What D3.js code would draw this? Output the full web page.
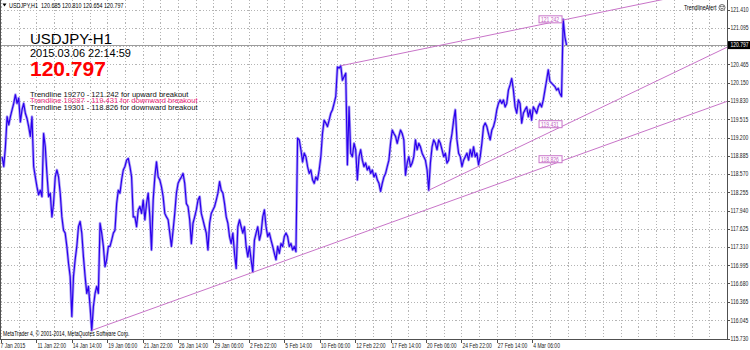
<!DOCTYPE html>
<html>
<head>
<meta charset="utf-8">
<script src="https://cdn.jsdelivr.net/npm/d3@7"></script>
<style>
  body { margin: 0; background: #fff; }
  svg { display: block; font-family: "Liberation Sans", Arial, sans-serif; }
</style>
</head>
<body>
<svg id="chart" width="750" height="350"></svg>
<script>
`use strict`;

const header = `USDJPY,H1  120.685 120.810 120.654 120.797`;

const symbol = `USDJPY-H1`;

const serverTime = `2015.03.06 22:14:59`;

const bid = 120.797;

const priceTicks = [121.410, 121.095, 120.780, 120.465, 120.150, 119.830, 119.515, 119.200, 118.885,
  118.570, 118.255, 117.940, 117.625, 117.310, 116.995, 116.680, 116.365, 116.045, 115.730];

const timeLabels = [`7 Jan 2015`, `11 Jan 22:00`, `14 Jan 14:00`, `19 Jan 06:00`, `21 Jan 22:00`,
  `26 Jan 14:00`, `29 Jan 06:00`, `2 Feb 22:00`, `5 Feb 14:00`, `10 Feb 06:00`, `12 Feb 22:00`,
  `17 Feb 14:00`, `20 Feb 06:00`, `24 Feb 22:00`, `27 Feb 14:00`, `4 Mar 06:00`];

// one close every 3 hourly bars
const closes = [
  118.87, 118.70, 119.04, 119.56, 119.42, 119.56, 119.68, 119.79, 119.94, 119.79,
  119.88, 119.47, 119.68, 119.79, 119.62, 119.53, 119.39, 119.22, 119.56, 118.70,
  118.52, 118.35, 118.21, 118.29, 118.18, 119.27, 119.04, 118.58, 118.18, 118.24,
  117.83, 118.06, 118.52, 118.64, 118.52, 118.24, 117.83, 117.60, 117.55, 117.32,
  117.03, 116.80, 116.11, 116.80, 117.09, 117.32, 117.66, 117.75, 117.55, 117.14,
  116.80, 116.51, 116.63, 116.28, 115.87, 116.28, 116.51, 116.63, 116.51, 117.72,
  117.55, 117.32, 116.97, 117.09, 117.32, 117.32, 117.43, 117.55, 117.60, 118.06,
  118.29, 118.24, 118.47, 118.64, 118.70, 118.81, 118.84, 118.70, 118.52, 117.83,
  117.83, 117.66, 117.95, 118.01, 117.89, 118.12, 117.78, 118.06, 118.24, 117.83,
  117.26, 118.12, 118.52, 118.78, 118.52, 118.47, 118.35, 118.18, 117.89, 117.83,
  117.78, 117.55, 117.32, 117.60, 117.89, 118.24, 118.41, 118.47, 118.52, 118.58,
  118.41, 118.06, 118.01, 117.78, 117.37, 117.72, 117.83, 117.95, 118.12, 118.18,
  117.89, 117.78, 117.66, 117.55, 117.26, 117.72, 117.89, 117.95, 118.01, 118.12,
  118.24, 118.44, 118.29, 118.24, 118.06, 117.83, 117.72, 117.49, 117.37, 117.55,
  117.20, 116.94, 117.66, 117.78, 117.66, 117.55, 117.66, 117.32, 117.14, 117.32,
  117.09, 116.88, 117.43, 117.55, 117.66, 117.43, 117.55, 117.83, 117.95, 117.66,
  117.49, 117.55, 117.43, 117.32, 117.20, 117.09, 117.32, 117.20, 117.37, 117.32,
  117.49, 117.55, 117.49, 117.32, 117.37, 117.26, 117.32, 117.23,
  119.19, 119.16, 118.99, 118.78, 118.93, 118.87, 118.70, 118.58, 118.64, 118.47,
  118.41, 118.52, 118.47, 118.64, 118.87, 119.27, 119.50, 119.45, 119.39, 119.50,
  119.62, 119.68, 119.79, 119.91, 120.42, 120.40, 120.44, 120.19, 120.25, 120.31,
  118.73, 119.73, 118.93, 118.87, 119.10, 118.99, 118.47, 118.87, 118.99, 118.81,
  118.70, 118.76, 118.64, 118.70, 118.58, 118.64, 118.52, 118.58, 118.47, 118.41,
  118.27, 118.41, 118.52, 118.58, 118.70, 118.81, 119.10, 119.33, 119.27, 119.22,
  119.10, 119.22, 119.33, 119.27, 119.16, 118.55, 118.76, 118.87, 118.70, 118.76,
  118.87, 119.16, 118.99, 119.10, 119.04, 118.93, 118.87, 118.81, 118.64, 118.29,
  118.76, 119.04, 119.16, 119.10, 118.99, 119.16, 119.10, 118.99, 118.87, 118.93,
  118.76, 118.81, 119.10, 119.27, 119.50, 119.68, 119.16, 118.93, 118.87, 118.70,
  118.81, 118.87, 118.93, 118.81, 118.99, 118.87, 119.04, 118.87, 118.93, 118.73,
  118.87, 119.10, 119.39, 119.45, 119.39, 119.27, 119.16, 119.33, 119.39, 119.50,
  119.68, 119.79, 119.85, 119.79, 119.85, 119.73, 119.79, 120.02, 120.11, 120.22,
  120.02, 119.73, 119.62, 119.85, 119.79, 119.45, 119.62, 119.68, 119.73, 119.56,
  119.68, 119.50, 119.73, 119.68, 119.62, 119.73, 119.79, 119.73, 119.85, 120.02,
  120.19, 120.37, 120.17, 120.14, 120.11, 120.08, 120.02, 120.05, 119.96, 119.91,
  121.24, 120.94, 120.797
];

const trendIds = [19270, 19287, 19301];

const trendStart = [[614, 120.44], [773, 118.29], [164, 115.87]];

const trendEnd = [[1022, 121.242], [1022, 119.431], [1022, 118.826]];

const trendSide = [`upward`, `downward`, `downward`];

(function () {

  const W = 750;

  const R = 727, B = 339;

  const BARS = 1312;

  const NARROW = .77;

  const barOf = i => 3 * i + 2;

  const lastBar = barOf(closes.length - 1);

  // the terminal font is narrower than Liberation Sans
  let squeeze = sel => {

    sel.each(function () {

      let w = this.getComputedTextLength();

      d3.select(this).attr(`textLength`, w * NARROW).attr(`lengthAdjust`, `spacingAndGlyphs`);
    });
  }

  let svg = d3.select(`#chart`);

  let x = d3.scaleLinear().domain([0, BARS]).range([1, R]);

  let y = d3.scaleLinear().domain([115.73, 121.41]).range([338.5, 9.6]);

  svg.append(`defs`).append(`clipPath`).attr(`id`, `plot`)
    .append(`rect`).attr(`x`, 0).attr(`y`, 0).attr(`width`, R).attr(`height`, B);

  // grid
  let grid = svg.append(`g`)
    .attr(`stroke`, `#b4b4b4`)
    .attr(`stroke-dasharray`, `1.2,2`)
    .attr(`shape-rendering`, `crispEdges`);

  grid.selectAll(`line.h`).data(priceTicks)
    .enter()
    .append(`line`)
    .attr(`class`, `h`)
    .attr(`x1`, 1)
    .attr(`x2`, R)
    .attr(`y1`, d => Math.round(y(d)) + .5)
    .attr(`y2`, d => Math.round(y(d)) + .5);

  grid.selectAll(`line.v`).data(d3.range(0, BARS, 32))
    .enter()
    .append(`line`)
    .attr(`class`, `v`)
    .attr(`x1`, d => Math.round(x(d)) + .5)
    .attr(`x2`, d => Math.round(x(d)) + .5)
    .attr(`y1`, 0)
    .attr(`y2`, B);

  // bid line
  svg.append(`line`)
    .attr(`x1`, 1).attr(`x2`, R)
    .attr(`y1`, Math.round(y(bid)) + .5).attr(`y2`, Math.round(y(bid)) + .5)
    .attr(`stroke`, `#9c9c9c`)
    .attr(`shape-rendering`, `crispEdges`);

  // price
  let line = d3.line()
    .x((d, i) => x(barOf(i)))
    .y(d => y(d));

  let plot = svg.append(`g`).attr(`clip-path`, `url(#plot)`);

  plot.append(`path`)
    .datum(closes)
    .attr(`d`, line)
    .attr(`fill`, `none`)
    .attr(`stroke`, `#b0a4f4`)
    .attr(`stroke-width`, 2.8)
    .attr(`stroke-linejoin`, `round`);

  plot.append(`path`)
    .datum(closes)
    .attr(`d`, line)
    .attr(`fill`, `none`)
    .attr(`stroke`, `#2b00ee`)
    .attr(`stroke-width`, 1.2)
    .attr(`stroke-linejoin`, `round`);

  // trendlines, extended to the right edge
  let rays = trendIds.map((id, k) => {

    let a = trendStart[k], b = trendEnd[k];

    let slope = (b[1] - a[1]) / (b[0] - a[0]);

    return {id: id, a: a, b: b, far: [BARS, a[1] + slope * (BARS - a[0])]};
  });

  plot.selectAll(`line.trend`).data(rays)
    .enter()
    .append(`line`)
    .attr(`class`, `trend`)
    .attr(`x1`, d => x(d.a[0]))
    .attr(`y1`, d => y(d.a[1]))
    .attr(`x2`, d => x(d.far[0]))
    .attr(`y2`, d => y(d.far[1]))
    .attr(`stroke`, `#c874c8`)
    .attr(`stroke-width`, 1);

  let tags = svg.selectAll(`g.tag`).data(rays)
    .enter()
    .append(`g`)
    .attr(`class`, `tag`)
    .attr(`transform`, d => `translate(${x(lastBar) - 28},${y(d.b[1])})`);

  tags.append(`rect`)
    .attr(`x`, .5).attr(`y`, -3.5)
    .attr(`width`, 23).attr(`height`, 7)
    .attr(`fill`, `#fff`)
    .attr(`stroke`, `#c874c8`);

  tags.append(`text`)
    .attr(`x`, 2.5)
    .attr(`y`, 2.4)
    .style(`font-size`, `6.5px`)
    .attr(`fill`, `#c060c0`)
    .text(d => d.b[1].toFixed(3))
    .call(squeeze);

  // frame
  svg.append(`path`)
    .attr(`d`, `M0.5,0V${B + .5}H${R + .5}V0`)
    .attr(`fill`, `none`)
    .attr(`stroke`, `#505050`)
    .attr(`shape-rendering`, `crispEdges`);

  // price axis
  let axisY = svg.append(`g`).style(`font-size`, `6.5px`).attr(`fill`, `#222`);

  axisY.selectAll(`line`).data(priceTicks)
    .enter()
    .append(`line`)
    .attr(`x1`, R).attr(`x2`, R + 3)
    .attr(`y1`, d => Math.round(y(d)) + .5)
    .attr(`y2`, d => Math.round(y(d)) + .5)
    .attr(`stroke`, `#505050`);

  axisY.selectAll(`text`).data(priceTicks)
    .enter()
    .append(`text`)
    .attr(`x`, R + 3.5)
    .attr(`y`, d => y(d) + 2.3)
    .text(d => d.toFixed(3))
    .call(squeeze);

  svg.append(`rect`)
    .attr(`x`, R + 1).attr(`y`, y(bid) - 4)
    .attr(`width`, W - R - 1).attr(`height`, 8)
    .attr(`fill`, `#000`);

  svg.append(`text`)
    .attr(`x`, R + 3.5).attr(`y`, y(bid) + 2.3)
    .style(`font-size`, `6.5px`)
    .attr(`fill`, `#fff`)
    .text(bid.toFixed(3))
    .call(squeeze);

  // time axis
  let axisX = svg.append(`g`).style(`font-size`, `6.5px`).attr(`fill`, `#222`);

  axisX.selectAll(`line`).data(timeLabels)
    .enter()
    .append(`line`)
    .attr(`x1`, (d, i) => Math.round(x(i * 64)) + .5)
    .attr(`x2`, (d, i) => Math.round(x(i * 64)) + .5)
    .attr(`y1`, B).attr(`y2`, B + 4)
    .attr(`stroke`, `#505050`);

  axisX.selectAll(`text`).data(timeLabels)
    .enter()
    .append(`text`)
    .attr(`x`, (d, i) => x(i * 64) + (i ? 1 : -.5))
    .attr(`y`, 347.5)
    .text(d => d)
    .call(squeeze);

  // texts on the chart
  svg.append(`path`)
    .attr(`d`, `M2.5,3.5h4l-2,3z`)
    .attr(`fill`, `#000`);

  svg.append(`text`).attr(`x`, 9).attr(`y`, 7.5)
    .style(`font-size`, `7px`).attr(`fill`, `#000`).style(`white-space`, `pre`).text(header)
    .call(squeeze);

  svg.append(`text`).attr(`x`, 684).attr(`y`, 10)
    .style(`font-size`, `6.8px`).attr(`fill`, `#000`).text(`TrendlineAlert`)
    .call(squeeze);

  // smiley icon
  let face = svg.append(`g`).attr(`transform`, `translate(722,7.5)`)
    .attr(`fill`, `none`).attr(`stroke`, `#333`).attr(`stroke-width`, .7);

  face.append(`circle`).attr(`r`, 3);

  face.append(`path`).attr(`d`, `M-1.5,0.6Q0,2.2 1.5,0.6`);

  face.append(`circle`).attr(`cx`, -1.1).attr(`cy`, -1).attr(`r`, .35).attr(`fill`, `#333`);

  face.append(`circle`).attr(`cx`, 1.1).attr(`cy`, -1).attr(`r`, .35).attr(`fill`, `#333`);

  svg.append(`text`).attr(`x`, 30).attr(`y`, 43.5)
    .style(`font-size`, `15px`).attr(`fill`, `#000`).text(symbol);

  svg.append(`text`).attr(`x`, 30).attr(`y`, 56.5)
    .style(`font-size`, `11px`).attr(`fill`, `#000`).text(serverTime);

  svg.append(`text`).attr(`x`, 30).attr(`y`, 76)
    .style(`font-size`, `21px`).style(`font-weight`, `bold`).attr(`fill`, `#ff0000`).text(bid.toFixed(3));

  svg.selectAll(`text.alert`).data(rays)
    .enter()
    .append(`text`)
    .attr(`class`, `alert`)
    .attr(`x`, 30)
    .attr(`y`, (d, k) => 96.5 + k * 6.7)
    .style(`font-size`, `7.6px`)
    .attr(`fill`, (d, k) => k === 1 ? `#ee2a7b` : `#111`)
    .text((d, k) => `Trendline ${d.id} - ${d.b[1].toFixed(3)} for ${trendSide[k]} breakout`);

  svg.append(`text`).attr(`x`, 3).attr(`y`, 336)
    .style(`font-size`, `6.5px`).attr(`fill`, `#000`)
    .text(`MetaTrader 4, © 2001-2014, MetaQuotes Software Corp.`)
    .call(squeeze);

})();
</script>
</body>
</html>
